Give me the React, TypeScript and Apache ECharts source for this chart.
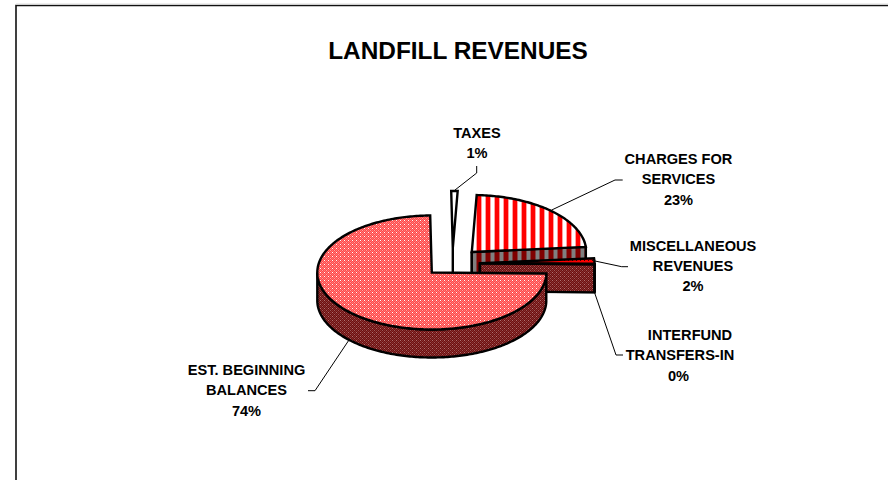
import React, { useEffect, useRef } from "react";
import * as echarts from "echarts";

const categories = ["TAXES", "CHARGES FOR SERVICES", "MISCELLANEOUS REVENUES", "INTERFUND TRANSFERS-IN", "EST. BEGINNING BALANCES"];
const values = [0.9, 22.9, 1.6, 0.11, 74.49];
const labelLines = [["TAXES"], ["CHARGES FOR", "SERVICES"], ["MISCELLANEOUS", "REVENUES"], ["INTERFUND", "TRANSFERS-IN"], ["EST. BEGINNING", "BALANCES"]];

const TITLE = "LANDFILL REVENUES";
const FONT = "Liberation Sans, Arial, sans-serif";
const RX = 114.5;
const RY = 57;
const DEPTH = 28;
const START = -0.8;
const apexes = [[452.8, 248], [471.8, 252], [480, 263.3], [480, 263.3], [431.8, 272.5]];
const labelPos = [
  { x: [477], y: 133, last: 477 },
  { x: [678.5, 678.5], y: 159, last: 678.5 },
  { x: [693, 693], y: 245.7, last: 693 },
  { x: [690, 680], y: 335, last: 678.5 },
  { x: [246.5, 246.5], y: 370, last: 246.5 },
];
const leaders = [
  [[476.7, 166], [476.7, 173], [455, 190]],
  [[622.7, 180], [615, 180], [551.7, 210]],
  [[628, 266.7], [621.7, 266.7], [595, 261]],
  [[623, 355], [616, 355], [594.7, 293]],
  [[308, 390.7], [315, 390.7], [348.3, 341]],
];

function makePattern(w: number, h: number, paint: (x: number, y: number) => string) {
  const c = document.createElement("canvas");
  c.width = w;
  c.height = h;
  const g = c.getContext("2d")!;
  for (let y = 0; y < h; y++) for (let x = 0; x < w; x++) {
    g.fillStyle = paint(x, y);
    g.fillRect(x, y, 1, 1);
  }
  return { image: c.toDataURL(), repeat: "repeat", imageWidth: w, imageHeight: h };
}

function App() {
  const ref = useRef<HTMLDivElement>(null);
  useEffect(() => {
    document.body.style.margin = "0";
    document.body.style.background = "#fff";
    const chart = echarts.init(ref.current!, null, { renderer: "svg" });
    const cellTop = (x: number, y: number) => {
      const a = x % 4, b = y % 4;
      if (a === 0 && b === 0) return "#ffffff";
      if (a === 2 && b === 2) return "#ffa0a0";
      return (a + b) % 2 === 0 ? "#ff7878" : "#ff4848";
    };
    const cellSide = (x: number, y: number) => {
      const a = x % 4, b = y % 4;
      if (a === 0 && b === 0) return "#b07070";
      if (a === 2 && b === 2) return "#9c5858";
      return (a + b) % 2 === 0 ? "#883030" : "#6c1010";
    };
    const dotsTop = makePattern(32, 32, cellTop);
    const dotsSide = makePattern(32, 32, cellSide);
    const stripesTop = makePattern(36, 36, (x) => (x % 9 < 4 ? "#ff0000" : x % 9 === 4 || x % 9 === 8 ? "#ffa0a0" : "#ffffff"));
    const stripesSide = makePattern(36, 36, (x) => (x % 9 < 4 ? "#800000" : x % 9 === 4 || x % 9 === 8 ? "#804040" : "#808080"));
    const misc = makePattern(32, 32, (x, y) => (x % 4 === 0 && y % 4 === 0 ? "#400000" : "#ff0000"));
    const whiteFill = "#ffffff";
    const tops = [whiteFill, stripesTop, misc, misc, dotsTop];
    const sides = [whiteFill, stripesSide, dotsSide, dotsSide, dotsSide];
    const total = values.reduce((a, b) => a + b, 0);
    const rad = (d: number) => (d * Math.PI) / 180;
    const stroke = { stroke: "#000", lineWidth: 2.4, lineJoin: "miter" };

    const renderItem = (params: any, api: any) => {
      const i = params.dataIndex;
      const v = api.value(0) as number;
      let before = 0;
      for (let k = 0; k < i; k++) before += values[k];
      const a0 = START + (before / total) * 360;
      const a1 = a0 + (v / total) * 360;
      const [ax, ay] = apexes[i];
      const pt = (d: number) => [ax + RX * Math.sin(rad(d)), ay - RY * Math.cos(rad(d))];
      const down = (p: number[]) => [p[0], p[1] + DEPTH];
      const arc = (s: number, e: number) => {
        const out: number[][] = [];
        const n = Math.max(1, Math.ceil(e - s));
        for (let k = 0; k <= n; k++) out.push(pt(s + ((e - s) * k) / n));
        return out;
      };
      const children: any[] = [];
      const sideFill = sides[i];
      children.push({
        type: "polyline",
        shape: { points: [[ax, ay], [ax, ay + DEPTH]] },
        style: { stroke: "#000", lineWidth: 2.4, fill: null },
      });
      if (a1 > 30 && a1 < 180) {
        children.push({
          type: "polygon",
          shape: { points: [[ax, ay], pt(a1), down(pt(a1)), [ax, ay + DEPTH]] },
          style: { fill: sideFill, ...stroke },
        });
      }
      const ws = Math.max(a0, 90);
      const we = Math.min(a1, 270);
      if (we > ws) {
        const front = arc(ws, we);
        children.push({
          type: "polygon",
          shape: { points: [...front, ...front.slice().reverse().map(down)] },
          style: { fill: sideFill, ...stroke },
        });
      }
      children.push({
        type: "polygon",
        shape: { points: [[ax, ay], ...arc(a0, a1)] },
        style: { fill: tops[i], ...stroke },
      });
      return { type: "group", children };
    };

    const labelFont = `bold 14.6px ${FONT}`;
    const labelElements: any[] = [];
    values.forEach((v, i) => {
      const pos = labelPos[i];
      const lines = labelLines[i];
      lines.forEach((t, k) => {
        labelElements.push({
          type: "text",
          x: pos.x[k],
          y: pos.y + k * 20.3,
          style: { text: t, font: labelFont, fill: "#000", align: "center", verticalAlign: "middle" },
        });
      });
      labelElements.push({
        type: "text",
        x: pos.last,
        y: pos.y + lines.length * 20.3,
        style: { text: `${Math.round((v / total) * 100)}%`, font: labelFont, fill: "#000", align: "center", verticalAlign: "middle" },
      });
    });

    chart.setOption({
      animation: false,
      backgroundColor: "#fff",
      title: {
        text: TITLE,
        left: 453,
        top: 33,
        textAlign: "center",
        textStyle: { fontFamily: FONT, fontWeight: "bold", fontSize: 24.4, color: "#000" },
      },
      graphic: [
        { type: "polyline", silent: true, shape: { points: [[16, 480], [16, 5.5], [888, 5.5]] }, style: { stroke: "#111", lineWidth: 1.6, fill: null } },
        { type: "line", silent: true, shape: { x1: 16, y1: 4, x2: 888, y2: 4 }, style: { stroke: "#ddd", lineWidth: 1 } },
        ...leaders.map((pts) => ({ type: "polyline", silent: true, shape: { points: pts }, style: { stroke: "#000", lineWidth: 1, fill: null } })),
        ...labelElements,
      ],
      series: [
        {
          type: "custom",
          coordinateSystem: "none",
          renderItem,
          data: values.map((v, i) => ({ name: categories[i], value: [v] })),
          silent: true,
        },
      ],
    });
    return () => chart.dispose();
  }, []);
  return <div ref={ref} style={{ width: 888, height: 480 }} />;
}

export default App;
